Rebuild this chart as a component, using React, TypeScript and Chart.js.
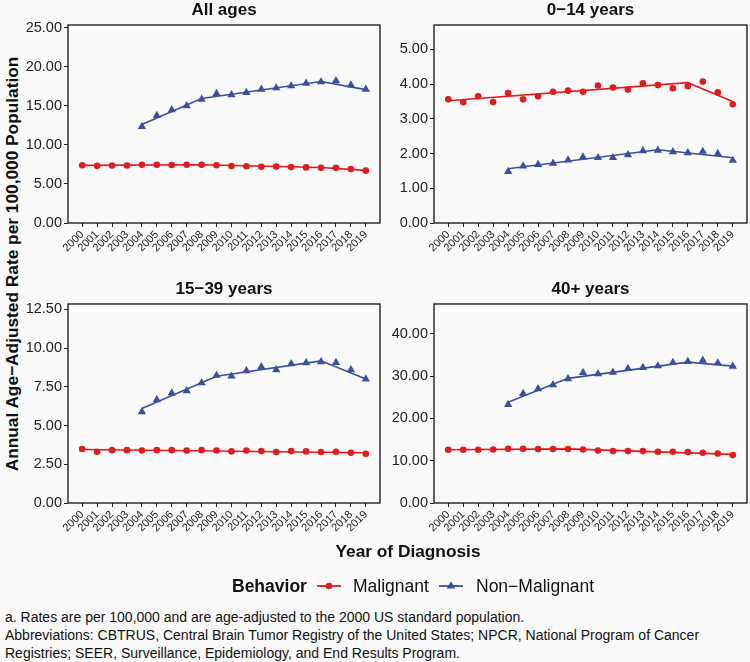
import React, { useEffect, useRef } from 'react';
import { Chart, registerables } from 'chart.js';

Chart.register(...registerables);

// ---------------- data ----------------
const years = [2000, 2001, 2002, 2003, 2004, 2005, 2006, 2007, 2008, 2009, 2010, 2011, 2012, 2013, 2014, 2015, 2016, 2017, 2018, 2019];

// All ages
const allMalignant = [7.4, 7.32, 7.36, 7.36, 7.45, 7.45, 7.42, 7.45, 7.45, 7.4, 7.3, 7.26, 7.2, 7.22, 7.16, 7.12, 7.08, 7.06, 6.9, 6.7];
const allNonMalignant = [null, null, null, null, 12.35, 13.76, 14.48, 14.99, 15.84, 16.57, 16.4, 16.7, 17.12, 17.29, 17.55, 17.89, 18.06, 18.19, 17.67, 17.12];
const allMalignantFitYears = [2000, 2008, 2016, 2019];
const allMalignantFit = [7.38, 7.46, 7.1, 6.74];
const allNonMalignantFitYears = [2004, 2008, 2016, 2019];
const allNonMalignantFit = [12.6, 15.95, 18.12, 17.08];
const allTicks = [0, 5, 10, 15, 20, 25];

// 0-14 years
const childMalignant = [3.56, 3.48, 3.65, 3.48, 3.74, 3.56, 3.65, 3.78, 3.81, 3.78, 3.96, 3.9, 3.84, 4.02, 3.97, 3.88, 3.94, 4.07, 3.76, 3.42];
const childNonMalignant = [null, null, null, null, 1.48, 1.64, 1.68, 1.72, 1.81, 1.9, 1.88, 1.88, 1.96, 2.08, 2.09, 2.05, 2.02, 2.06, 2.0, 1.8];
const childMalignantFitYears = [2000, 2016, 2019];
const childMalignantFit = [3.52, 4.04, 3.5];
const childNonMalignantFitYears = [2004, 2014, 2019];
const childNonMalignantFit = [1.56, 2.11, 1.88];
const childTicks = [0, 1, 2, 3, 4, 5];

// 15-39 years
const ayaMalignant = [3.48, 3.31, 3.41, 3.41, 3.39, 3.41, 3.41, 3.39, 3.41, 3.39, 3.33, 3.39, 3.35, 3.29, 3.35, 3.33, 3.29, 3.31, 3.24, 3.18];
const ayaNonMalignant = [null, null, null, null, 5.88, 6.66, 7.09, 7.24, 7.75, 8.23, 8.18, 8.53, 8.78, 8.59, 8.98, 9.04, 9.11, 9.06, 8.59, 7.99];
const ayaMalignantFitYears = [2000, 2019];
const ayaMalignantFit = [3.45, 3.24];
const ayaNonMalignantFitYears = [2004, 2009, 2016, 2019];
const ayaNonMalignantFit = [6.1, 8.18, 9.17, 8.0];
const ayaTicks = [0, 2.5, 5, 7.5, 10, 12.5];

// 40+ years
const adultMalignant = [12.6, 12.6, 12.6, 12.68, 12.83, 12.83, 12.76, 12.76, 12.76, 12.68, 12.44, 12.28, 12.28, 12.28, 12.13, 12.13, 12.05, 11.89, 11.73, 11.34];
const adultNonMalignant = [null, null, null, null, 23.3, 25.9, 27.0, 27.95, 29.37, 30.87, 30.55, 30.94, 31.8, 32.05, 32.44, 33.23, 33.46, 33.78, 33.15, 32.36];
const adultMalignantFitYears = [2000, 2008, 2019];
const adultMalignantFit = [12.6, 12.8, 11.5];
const adultNonMalignantFitYears = [2004, 2008, 2016, 2019];
const adultNonMalignantFit = [23.85, 29.5, 33.35, 32.4];
const adultTicks = [0, 10, 20, 30, 40];

// ---------------- style ----------------
const RED = '#E41A1C';
const BLUE = '#3A4FA0';
const FONT = "'Liberation Sans', Arial, Helvetica, sans-serif";
const BG = '#FAFAFA';

const Y_AXIS_W = 44;
const TITLE_H = 25;
const PAD_RIGHT = 6;
const CANVAS_H = 282;

const boxPlugin = {
  id: 'panelBox',
  afterDatasetsDraw(chart: any) {
    const { ctx, chartArea } = chart;
    const { left, top, right, bottom } = chartArea;
    ctx.save();
    ctx.strokeStyle = '#111';
    ctx.lineWidth = 1.3;
    ctx.strokeRect(left, top, right - left, bottom - top);
    ctx.restore();
  },
};

type PanelProps = {
  title: string;
  malignant: (number | null)[];
  nonMalignant: (number | null)[];
  malFitYears: number[];
  malFit: number[];
  nonFitYears: number[];
  nonFit: number[];
  yMax: number;
  yTicks: number[];
  left: number;
  top: number;
  right: number;
  bottom: number;
};

function Panel(p: PanelProps) {
  const ref = useRef<HTMLCanvasElement>(null);
  const canvasLeft = p.left - Y_AXIS_W;
  const canvasTop = p.top - TITLE_H;
  const width = Math.round(p.right - canvasLeft + PAD_RIGHT);
  const xAxisH = CANVAS_H - (p.bottom - canvasTop);

  useEffect(() => {
    const toPts = (vals: (number | null)[]) => years.map((y, i) => ({ x: y, y: vals[i] }));
    const toFit = (ys: number[], vals: number[]) => ys.map((y, i) => ({ x: y, y: vals[i] }));
    const chart = new Chart(ref.current as HTMLCanvasElement, {
      type: 'line',
      data: {
        datasets: [
          {
            label: 'Malignant',
            data: toPts(p.malignant) as any,
            showLine: false,
            pointStyle: 'circle',
            pointRadius: 3.3,
            pointBackgroundColor: RED,
            pointBorderColor: RED,
            pointBorderWidth: 0,
          },
          {
            label: 'Non-Malignant',
            data: toPts(p.nonMalignant) as any,
            showLine: false,
            pointStyle: 'triangle',
            pointRadius: 4.8,
            pointBackgroundColor: BLUE,
            pointBorderColor: BLUE,
            pointBorderWidth: 0,
          },
          {
            label: 'Malignant fit',
            data: toFit(p.malFitYears, p.malFit) as any,
            borderColor: RED,
            borderWidth: 1.6,
            pointRadius: 0,
            tension: 0,
          },
          {
            label: 'Non-Malignant fit',
            data: toFit(p.nonFitYears, p.nonFit) as any,
            borderColor: BLUE,
            borderWidth: 1.6,
            pointRadius: 0,
            tension: 0,
          },
        ],
      },
      options: {
        animation: false,
        responsive: false,
        events: [],
        layout: { padding: { left: 0, right: PAD_RIGHT, top: 0, bottom: 0 } },
        plugins: {
          legend: { display: false },
          tooltip: { enabled: false },
          title: {
            display: true,
            text: p.title,
            fullSize: false,
            color: '#111',
            font: { family: FONT, size: 17, weight: 'bold', lineHeight: 1.2 },
            padding: { top: 0, bottom: TITLE_H - 17 * 1.2 },
          },
        },
        scales: {
          x: {
            type: 'linear',
            min: 1999.05,
            max: 2019.95,
            afterBuildTicks: (scale: any) => {
              scale.ticks = years.map((v) => ({ value: v }));
            },
            afterFit: (scale: any) => {
              scale.height = xAxisH;
            },
            grid: { drawOnChartArea: false, drawTicks: true, tickLength: 4, color: '#222', lineWidth: 1 },
            border: { display: false },
            ticks: {
              autoSkip: false,
              minRotation: 45,
              maxRotation: 45,
              padding: 1,
              color: '#222',
              font: { family: FONT, size: 11 },
              callback: (v: any) => String(v),
            },
          },
          y: {
            type: 'linear',
            min: 0,
            max: p.yMax,
            afterBuildTicks: (scale: any) => {
              scale.ticks = p.yTicks.map((v) => ({ value: v }));
            },
            afterFit: (scale: any) => {
              scale.width = Y_AXIS_W;
            },
            grid: { drawOnChartArea: false, drawTicks: true, tickLength: 4, color: '#222', lineWidth: 1 },
            border: { display: false },
            ticks: {
              padding: 2,
              color: '#222',
              font: { family: FONT, size: 14.5 },
              callback: (v: any) => Number(v).toFixed(2),
            },
          },
        },
      },
      plugins: [boxPlugin],
    });
    return () => chart.destroy();
  }, []);

  return (
    <canvas
      ref={ref}
      width={width}
      height={CANVAS_H}
      style={{ position: 'absolute', left: canvasLeft, top: canvasTop, width, height: CANVAS_H }}
    />
  );
}

function LegendKey({ color, shape, left }: { color: string; shape: 'circle' | 'triangle'; left: number }) {
  return (
    <svg width={26} height={14} style={{ position: 'absolute', left, top: 579 }}>
      <line x1={1} y1={7} x2={25} y2={7} stroke={color} strokeWidth={1.8} />
      {shape === 'circle' ? (
        <circle cx={13} cy={7} r={3.3} fill={color} />
      ) : (
        <polygon points="13,2.2 17.2,9.4 8.8,9.4" fill={color} />
      )}
    </svg>
  );
}

export default function App() {
  const text: React.CSSProperties = { position: 'absolute', fontFamily: FONT, color: '#111', whiteSpace: 'nowrap' };
  const legendText: React.CSSProperties = { ...text, top: 586, fontSize: 17.5, transform: 'translateY(-50%)' };
  return (
    <div style={{ position: 'absolute', left: 0, top: 0, width: 750, height: 662, background: BG, overflow: 'hidden' }}>
      <Panel title="All ages" malignant={allMalignant} nonMalignant={allNonMalignant}
        malFitYears={allMalignantFitYears} malFit={allMalignantFit}
        nonFitYears={allNonMalignantFitYears} nonFit={allNonMalignantFit}
        yMax={25.35} yTicks={allTicks} left={68} top={25} right={380} bottom={223} />
      <Panel title="0−14 years" malignant={childMalignant} nonMalignant={childNonMalignant}
        malFitYears={childMalignantFitYears} malFit={childMalignantFit}
        nonFitYears={childNonMalignantFitYears} nonFit={childNonMalignantFit}
        yMax={5.7} yTicks={childTicks} left={434} top={25} right={747} bottom={223} />
      <Panel title="15−39 years" malignant={ayaMalignant} nonMalignant={ayaNonMalignant}
        malFitYears={ayaMalignantFitYears} malFit={ayaMalignantFit}
        nonFitYears={ayaNonMalignantFitYears} nonFit={ayaNonMalignantFit}
        yMax={12.84} yTicks={ayaTicks} left={68} top={304} right={380} bottom={503} />
      <Panel title="40+ years" malignant={adultMalignant} nonMalignant={adultNonMalignant}
        malFitYears={adultMalignantFitYears} malFit={adultMalignantFit}
        nonFitYears={adultNonMalignantFitYears} nonFit={adultNonMalignantFit}
        yMax={47.1} yTicks={adultTicks} left={434} top={304} right={747} bottom={503} />

      <div style={{ ...text, left: 12, top: 264, fontSize: 17.3, fontWeight: 'bold', transform: 'translate(-50%, -50%) rotate(-90deg)' }}>
        Annual Age−Adjusted Rate per 100,000 Population
      </div>
      <div style={{ ...text, left: 408, top: 551, fontSize: 17.3, fontWeight: 'bold', transform: 'translate(-50%, -50%)' }}>
        Year of Diagnosis
      </div>

      <div style={{ ...legendText, left: 232, fontWeight: 'bold' }}>Behavior</div>
      <LegendKey color={RED} shape="circle" left={316} />
      <div style={{ ...legendText, left: 353 }}>Malignant</div>
      <LegendKey color={BLUE} shape="triangle" left={438} />
      <div style={{ ...legendText, left: 476 }}>Non−Malignant</div>

      <div style={{ ...text, left: 5, top: 608, fontSize: 14, lineHeight: '18px', whiteSpace: 'normal', width: 744 }}>
        <div>a. Rates are per 100,000 and are age-adjusted to the 2000 US standard population.</div>
        <div>Abbreviations: CBTRUS, Central Brain Tumor Registry of the United States; NPCR, National Program of Cancer</div>
        <div>Registries; SEER, Surveillance, Epidemiology, and End Results Program.</div>
      </div>
    </div>
  );
}
